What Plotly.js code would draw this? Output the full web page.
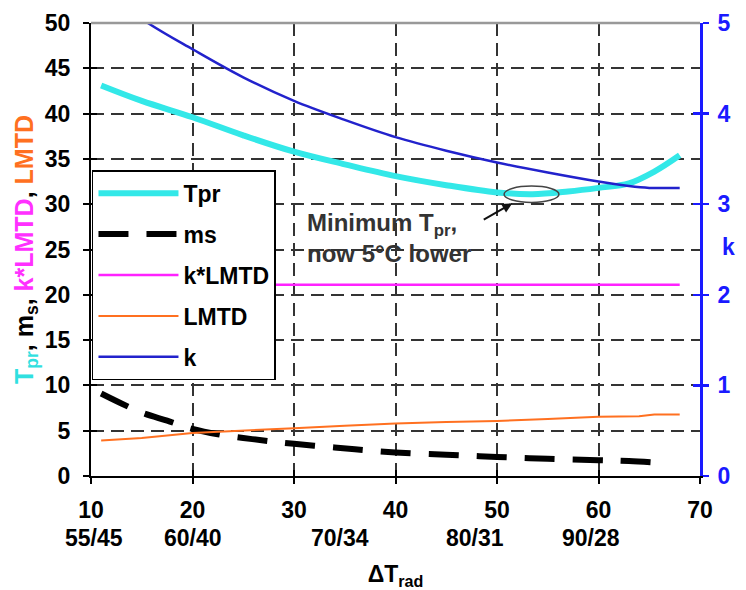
<!DOCTYPE html>
<html><head><meta charset="utf-8">
<script src="https://cdn.plot.ly/plotly-3.0.1.min.js"></script>
<style>html,body{margin:0;padding:0;background:#fff}#chart{width:746px;height:590px}</style>
</head><body><div id="chart"></div>
<script>
// ---- data ----
const xTpr = [11, 15, 20, 25, 30, 35, 40, 45, 50, 53.5, 57, 60, 63, 65.5, 68];
const tpr  = [43.1, 41.4, 39.6, 37.6, 35.8, 34.4, 33.1, 32.1, 31.3, 31.1, 31.4, 31.8, 32.3, 33.6, 35.4];

const xMs = [11, 13, 15, 17.5, 20, 22.5, 25, 27.5, 30, 33, 36, 40, 45, 50, 55, 60, 63, 66];
const ms  = [9.1, 8.0, 7.0, 6.1, 5.2, 4.6, 4.2, 3.85, 3.55, 3.25, 2.95, 2.6, 2.35, 2.1, 1.9, 1.75, 1.65, 1.45];

const xKL = [11, 68];
const kLMTD = [21.1, 21.1];

const xL = [11, 15, 20, 25, 30, 35, 40, 45, 50, 55, 60, 64, 65.5, 68];
const lmtd = [3.93, 4.2, 4.75, 5.05, 5.27, 5.55, 5.8, 5.95, 6.07, 6.3, 6.55, 6.6, 6.8, 6.8];

const xK = [11, 15.6, 20, 25, 30, 35, 40, 45, 50, 55, 60, 63, 65, 68];
const k  = [5.37, 5.0, 4.71, 4.40, 4.14, 3.93, 3.74, 3.59, 3.46, 3.35, 3.25, 3.20, 3.18, 3.18];

const xTicks = [10, 20, 30, 40, 50, 60, 70];
const pairLabels = ['55/45', '60/40', '70/34', '80/31', '90/28'];
const pairPos = [10.3, 20, 34.5, 47.8, 59.3];

const FONT = 'Liberation Sans, Arial, sans-serif';
const BLUE = '#1a1aff';

const traces = [
  {x: xTpr, y: tpr, name: 'Tpr', mode: 'lines', line: {color: '#33e8e8', width: 6, shape: 'spline'}, legendgroup: 'a'},
  {x: xMs, y: ms, name: 'ms', mode: 'lines', line: {color: '#000', width: 6, dash: '30px,18px', shape: 'spline'}, legendgroup: 'b'},
  {x: xKL, y: kLMTD, name: 'k*LMTD', mode: 'lines', line: {color: '#ff22ff', width: 2.5}, legendgroup: 'c'},
  {x: xL, y: lmtd, name: 'LMTD', mode: 'lines', line: {color: '#ff7020', width: 2}, legendgroup: 'd'},
  {x: xK, y: k, name: 'k', mode: 'lines', yaxis: 'y2', line: {color: '#2222cc', width: 2.5, shape: 'spline'}, legendgroup: 'e'}
];

const tickFont = {family: FONT, size: 23, color: '#000', weight: 'bold'};

const annotations = pairLabels.map((t, i) => ({
  x: pairPos[i], xref: 'x', y: 0, yref: 'paper', yanchor: 'middle', yshift: -62,
  text: t, showarrow: false, font: {family: FONT, size: 23, color: '#000', weight: 'bold'}
}));
annotations.push({
  x: 1.0608, xref: 'paper', y: 0.5055, yref: 'paper', text: 'k', showarrow: false,
  font: {family: FONT, size: 23, color: BLUE, weight: 'bold'}
});
annotations.push({
  x: 31.1, xref: 'x', y: 26.3, yref: 'y', xanchor: 'left', yanchor: 'middle', align: 'left',
  text: 'Minimum T<sub>pr</sub>,<br>now 5°C lower', showarrow: false,
  font: {family: FONT, size: 24, color: '#333', weight: 'bold'}
});
annotations.push({
  x: 51.5, y: 30.1, xref: 'x', yref: 'y', ax: 48.4, ay: 28.1, axref: 'x', ayref: 'y',
  text: ' ', showarrow: true, arrowhead: 2, arrowsize: 1, arrowwidth: 2, arrowcolor: '#111'
});

const layout = {
  width: 746, height: 590,
  margin: {l: 91, r: 46, t: 23, b: 114},
  paper_bgcolor: '#fff', plot_bgcolor: '#fff',
  showlegend: true,
  legend: {
    x: 0.0016, y: 0.675, xanchor: 'left', yanchor: 'top',
    bgcolor: '#fff', bordercolor: '#000', borderwidth: 1.5,
    font: {family: FONT, size: 23, color: '#000', weight: 'bold'},
    traceorder: 'grouped', tracegroupgap: 8, itemwidth: 80
  },
  xaxis: {
    range: [10, 70], tickvals: xTicks, ticks: 'outside', ticklen: 6, tickwidth: 2, tickcolor: '#000',
    showline: true, linecolor: '#000', linewidth: 2, zeroline: false,
    showgrid: true, gridcolor: '#333', gridwidth: 2, griddash: '13px,7px',
    tickfont: tickFont, ticklabelstandoff: 6,
    title: {text: 'ΔT<sub>rad</sub>', font: {family: FONT, size: 23, color: '#000', weight: 'bold'}, standoff: 52}
  },
  yaxis: {
    range: [0, 50], dtick: 5, ticks: 'outside', ticklen: 6, tickwidth: 2, tickcolor: '#000',
    showline: true, linecolor: '#000', linewidth: 2, zeroline: false,
    showgrid: true, gridcolor: '#333', gridwidth: 2, griddash: '13px,7px',
    tickfont: tickFont, ticklabelstandoff: 8,
    title: {
      text: '<span style="color:#30e0e0">T<sub>pr</sub></span>, m<sub>s</sub>, <span style="color:#ff30ff">k*LMTD</span>, <span style="color:#ff7020">LMTD</span>',
      font: {family: FONT, size: 25, color: '#000', weight: 'bold'}, standoff: 4
    }
  },
  yaxis2: {
    overlaying: 'y', side: 'right', range: [0, 5], dtick: 1, anchor: 'x',
    ticks: 'outside', ticklen: 6, tickwidth: 2.5, tickcolor: BLUE,
    showline: true, linecolor: BLUE, linewidth: 3, showgrid: false, zeroline: false,
    tickfont: {family: FONT, size: 23, color: BLUE, weight: 'bold'}, ticklabelstandoff: 4
  },
  xaxis2: {
    overlaying: 'x', anchor: 'y', side: 'bottom', range: [10, 70], tickvals: xTicks,
    ticks: 'inside', ticklen: 6, tickwidth: 2, tickcolor: '#000',
    showticklabels: false, showgrid: false, showline: false, zeroline: false
  },
  yaxis3: {
    overlaying: 'y', anchor: 'x', side: 'left', range: [0, 50], dtick: 5,
    ticks: 'inside', ticklen: 6, tickwidth: 2, tickcolor: '#000',
    showticklabels: false, showgrid: false, showline: false, zeroline: false
  },
  yaxis4: {
    overlaying: 'y', anchor: 'x', side: 'right', range: [0, 5], dtick: 1,
    ticks: 'inside', ticklen: 7, tickwidth: 2.5, tickcolor: BLUE,
    showticklabels: false, showgrid: false, showline: false, zeroline: false
  },
  shapes: [
    {type: 'line', xref: 'paper', yref: 'paper', x0: 0, x1: 1, y0: 1, y1: 1, line: {color: '#999', width: 2.5}},
    {type: 'circle', xref: 'x', yref: 'y', x0: 50.7, x1: 56.1, y0: 30.2, y1: 32.0, line: {color: '#444', width: 1.5}}
  ],
  annotations: annotations
};

traces.push({x: [null], y: [null], xaxis: 'x2', yaxis: 'y', showlegend: false, hoverinfo: 'skip'});
traces.push({x: [null], y: [null], xaxis: 'x', yaxis: 'y3', showlegend: false, hoverinfo: 'skip'});
traces.push({x: [null], y: [null], xaxis: 'x', yaxis: 'y4', showlegend: false, hoverinfo: 'skip'});

Plotly.newPlot('chart', traces, layout, {displayModeBar: false, staticPlot: true});
</script>
</body></html>
